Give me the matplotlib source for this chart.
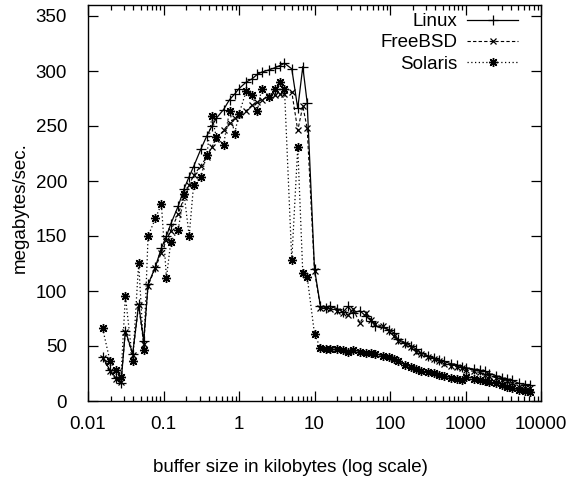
import matplotlib
matplotlib.use("Agg")
import matplotlib.pyplot as plt
from matplotlib.ticker import LogLocator, FixedLocator, NullFormatter

plt.rcParams['font.family'] = ['Liberation Sans', 'DejaVu Sans']

# buffer sizes in kilobytes
sizes_kb = [0.015625, 0.01953125, 0.0234375, 0.02734375,
            0.03125, 0.0390625, 0.046875, 0.0546875,
            0.0625, 0.078125, 0.09375, 0.109375,
            0.125, 0.15625, 0.1875, 0.21875,
            0.25, 0.3125, 0.375, 0.4375,
            0.5, 0.625, 0.75, 0.875,
            1, 1.25, 1.5, 1.75,
            2, 2.5, 3, 3.5,
            4, 5, 6, 7,
            8, 10, 12, 14,
            16, 20, 24, 28,
            32, 40, 48, 56,
            64, 80, 96, 112,
            128, 160, 192, 224,
            256, 320, 384, 448,
            512, 640, 768, 896,
            1024, 1280, 1536, 1792,
            2048, 2560, 3072, 3584,
            4096, 5120, 6144, 7168]

linux = [40, 28, 21, 16,
         64, 43, 88, 55,
         106, 122, 139, 150,
         161, 177, 193, 204,
         213, 229, 241, 250,
         257, 265, 274, 279,
         284, 290, 293, 297,
         299, 301, 303, 305,
         307, 302, 266, 304,
         271, 120, 86, 85,
         86, 84, 81, 86,
         80, 82, 77, 73,
         68, 67, 65, 62,
         56, 53, 50, 47,
         44, 41, 39, 37,
         36, 34, 33, 31,
         30, 29, 28, 27,
         25, 23, 21, 20,
         19, 16, 15, 15]

freebsd = [39, 27, 20, 17,
           63, 42, 87, 52,
           105, 121, 135, 146,
           155, 170, 185, 196,
           205, 214, 222, 231,
           238, 246, 253, 257,
           260, 264, 269, 272,
           274, 277, 278, 279,
           279, 281, 246, 268,
           248, 118, 85, 85,
           84, 82, 80, 78,
           84, 71, 80, 74,
           70, 68, 64, 59,
           55, 52, 49, 45,
           43, 40, 38, 36,
           34, 32, 31, 30,
           28, 27, 26, 24,
           23, 21, 19, 18,
           16, 13, 12, 12]

solaris = [66, 36.5, 28, 22,
           95.5, 36, 125.7, 46,
           150, 166, 179, 112,
           145, 155.5, 188, 150,
           196, 204, 224, 259,
           240, 233, 264, 243,
           261, 282, 278, 264,
           284, 276, 284, 290,
           284, 128, 231, 116,
           113, 61, 48, 47,
           47, 47, 46, 45,
           46, 45, 44, 44,
           43, 41, 40, 38,
           36, 33, 31, 29,
           27.5, 26.5, 25.5, 24,
           23, 21, 20, 19.5,
           22, 20, 19, 18,
           17.5, 16.5, 15, 13,
           12, 10, 9, 8.5]

x_ticks = [0.01, 0.1, 1, 10, 100, 1000, 10000]
x_ticklabels = ['0.01', '0.1', '1', '10', '100', '1000', '10000']
y_ticks = [0, 50, 100, 150, 200, 250, 300, 350]

W, H = 575, 488
fig = plt.figure(figsize=(W / 100, H / 100), dpi=100)
ax = fig.add_axes([88 / W, 1 - 401 / H, (541 - 88) / W, (401 - 5) / H])

star = (8, 2, 0)
ax.plot(sizes_kb, linux, color='black', linestyle='-', linewidth=0.9,
        marker='+', markersize=6.5, markeredgewidth=0.9, label='Linux')
ax.plot(sizes_kb, freebsd, color='black', linestyle=(0, (3, 2)), linewidth=0.8,
        marker='x', markersize=5, markeredgewidth=0.9, label='FreeBSD')
ax.plot(sizes_kb, solaris, color='black', linestyle=(0, (1, 2)), linewidth=0.9,
        marker=star, markersize=6.5, markeredgewidth=1.0, label='Solaris')

ax.set_xscale('log')
ax.set_xlim(0.01, 10000)
ax.set_ylim(0, 360)
ax.xaxis.set_major_locator(FixedLocator(x_ticks))
ax.set_xticklabels(x_ticklabels)
ax.xaxis.set_minor_locator(LogLocator(base=10, subs=[2, 3, 4, 5, 6, 7, 8, 9]))
ax.xaxis.set_minor_formatter(NullFormatter())
ax.set_yticks(y_ticks)

ax.tick_params(which='both', direction='in', top=True, right=True,
               labelsize=13.5, width=0.9, colors='black')
ax.tick_params(which='major', length=7)
ax.tick_params(which='minor', length=3.5)
ax.tick_params(axis='y', which='major', pad=15)
ax.tick_params(axis='x', which='major', pad=11)
for s in ax.spines.values():
    s.set_linewidth(1.0)

fig.text(20 / W, 1 - 208 / H, 'megabytes/sec.', rotation=90, fontsize=13.5,
         ha='center', va='center')
fig.text(290 / W, 1 - 467 / H, 'buffer size in kilobytes (log scale)',
         fontsize=13.5, ha='center', va='center')

leg = ax.legend(loc='upper right', frameon=False,
                markerfirst=False, fontsize=13.5, handlelength=2.7,
                labelspacing=0.22, handletextpad=0.55, borderaxespad=0.0,
                borderpad=0.0)
leg.set_bbox_to_anchor((518 / W, 1 - 13 / H), transform=fig.transFigure)
for t in leg.get_texts():
    t.set_ha('right')

fig.savefig('out.png', dpi=100)
